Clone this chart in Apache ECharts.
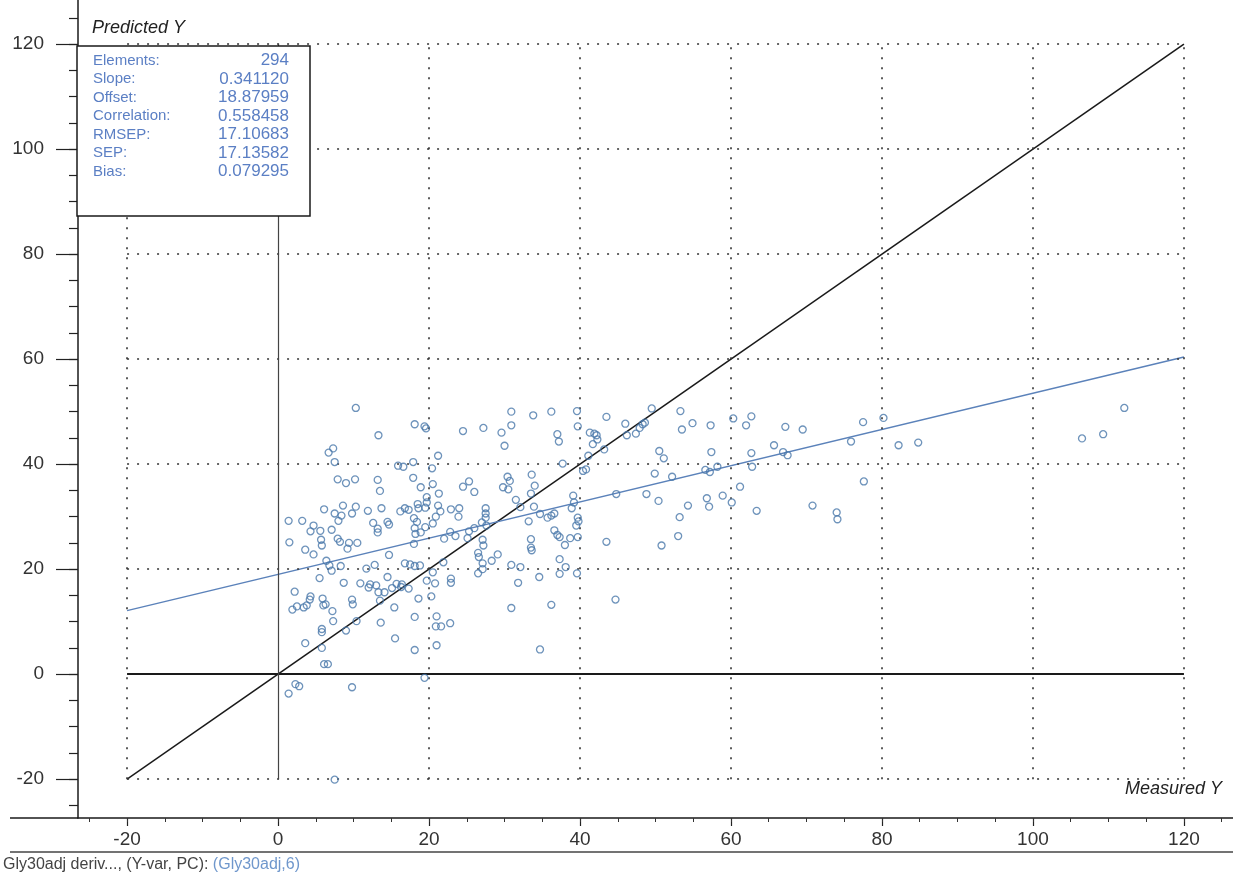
<!DOCTYPE html>
<html>
<head>
<meta charset="utf-8">
<script src="https://cdn.jsdelivr.net/npm/echarts@6/dist/echarts.min.js"></script>
<style>
  html, body { margin: 0; padding: 0; background: #fff; }
  #chart { width: 1233px; height: 877px; }
</style>
</head>
<body>
<div id="chart"></div>
<script>
// axis ticks / grid
const xTicks = [-20, 0, 20, 40, 60, 80, 100, 120];
const yTicks = [-20, 0, 20, 40, 60, 80, 100, 120];
const gridX = [-20, 20, 40, 60, 80, 100, 120];
const gridY = [-20, 20, 40, 60, 80, 100, 120];

// stats box
const statLabels = ['Elements:', 'Slope:', 'Offset:', 'Correlation:', 'RMSEP:', 'SEP:', 'Bias:'];
const statValues = ['294', '0.341120', '18.87959', '0.558458', '17.10683', '17.13582', '0.079295'];

// reference lines
const targetLine = [[-20, -20], [120, 120]];
const fitLine = [[-20, 12.1], [120, 60.4]];

// samples: [measured Y, predicted Y]
const points = [
  [10.3,50.7],[18.1,47.6],[19.4,47.2],[19.6,46.8],[24.5,46.3],[13.3,45.5],[6.7,42.2],[7.3,43.0],[21.2,41.6],[7.5,40.4],
  [15.9,39.7],[16.6,39.5],[17.9,40.4],[20.4,39.2],[7.9,37.1],[9.0,36.4],[10.2,37.1],[13.2,37.0],[13.5,34.9],[17.9,37.4],
  [18.9,35.6],[20.5,36.2],[24.5,35.7],[25.3,36.7],[21.3,34.4],[19.7,33.7],[19.7,32.7],[6.1,31.4],[8.6,32.1],[10.3,31.9],
  [7.5,30.6],[8.4,30.2],[9.8,30.6],[8.0,29.2],[11.9,31.1],[13.7,31.6],[16.2,31.0],[16.8,31.6],[17.3,31.3],[18.5,32.4],
  [18.6,31.6],[19.5,31.7],[21.2,32.1],[21.5,31.0],[22.9,31.4],[24.0,31.6],[23.9,30.0],[20.9,30.0],[1.4,29.2],[3.2,29.2],
  [4.7,28.3],[4.3,27.2],[5.6,27.3],[7.1,27.5],[7.9,25.8],[8.2,25.2],[5.7,25.6],[5.8,24.5],[9.4,25.0],[10.5,25.0],
  [9.2,23.9],[12.6,28.8],[13.2,27.7],[13.2,27.0],[14.5,29.0],[14.7,28.5],[18.0,29.7],[18.4,29.0],[18.1,27.8],[19.5,28.0],
  [18.2,26.7],[18.9,27.0],[20.5,28.7],[22.0,25.8],[22.8,27.1],[23.5,26.3],[25.1,25.9],[1.5,25.1],[3.6,23.7],[4.7,22.8],
  [14.7,22.7],[18.0,24.8],[6.4,21.6],[6.8,20.7],[7.1,19.7],[8.3,20.6],[11.7,20.1],[12.8,20.8],[16.8,21.1],[17.5,20.9],
  [18.1,20.6],[18.8,20.7],[20.5,19.4],[21.9,21.3],[5.5,18.3],[8.7,17.4],[10.9,17.3],[12.2,17.1],[13.0,16.9],[14.5,18.5],
  [15.7,17.2],[16.4,17.1],[19.7,17.8],[20.8,17.3],[22.9,18.2],[22.9,17.4],[12.0,16.5],[13.3,15.6],[14.1,15.6],[15.1,16.4],
  [16.3,16.6],
  [30.9,50.0],[33.8,49.3],[36.2,50.0],[39.6,50.1],[43.5,49.0],[30.9,47.4],[27.2,46.9],[29.6,46.0],[39.7,47.2],
  [41.3,46.0],[41.9,45.8],[42.2,45.5],[42.3,44.7],[46.0,47.7],[46.2,45.5],[47.4,45.8],[47.9,46.9],[48.3,47.6],[48.6,47.9],
  [49.5,50.6],[37.0,45.7],[37.2,44.3],[30.0,43.5],[41.7,43.8],[43.2,42.8],[41.1,41.6],[37.7,40.1],[40.8,39.0],[40.4,38.7],
  [49.9,38.2],[50.5,42.5],[26.0,34.7],[30.4,37.6],[30.7,36.8],[29.8,35.6],[30.5,35.2],[33.6,38.0],[34.0,35.9],[33.5,34.4],
  [31.5,33.2],[32.1,31.8],[33.9,31.9],[34.7,30.5],[35.7,29.8],[36.2,30.2],[36.6,30.6],[39.1,34.0],[39.2,32.7],[38.9,31.6],
  [39.7,29.8],[39.8,29.1],[39.5,28.3],[33.2,29.1],[44.8,34.3],[48.8,34.3],[50.4,33.0],[27.5,31.6],[27.5,30.6],[27.5,29.8],
  [27.0,28.9],[27.6,28.3],[25.3,27.2],[26.0,27.8],[27.1,25.6],[27.2,24.5],[33.5,25.7],[33.5,24.1],[33.6,23.6],[36.6,27.4],
  [37.0,26.5],[37.3,26.1],[38.7,25.9],[38.0,24.6],[39.7,26.1],[43.5,25.2],[26.5,23.1],[26.6,22.3],[28.3,21.6],[29.1,22.8],
  [27.1,21.1],[27.1,20.0],[26.5,19.2],[30.9,20.8],[32.1,20.4],[31.8,17.4],[34.6,18.5],[37.3,19.1],[37.3,21.9],[38.1,20.4],
  [39.6,19.2],
  [30.9,12.6],[36.2,13.2],[44.7,14.2],[34.7,4.7],
  [2.2,15.7],[1.9,12.3],[2.5,12.9],[3.4,12.7],[3.8,13.1],[4.3,14.8],[4.2,14.2],[5.9,14.4],[6.0,13.1],[6.3,13.3],
  [7.2,12.0],[9.8,14.2],[9.9,13.3],[13.5,14.0],[15.4,12.7],[17.3,16.3],[18.6,14.4],[20.3,14.8],[7.3,10.1],[10.4,10.1],
  [13.6,9.8],[18.1,10.9],[21.0,11.0],[20.9,9.1],[21.6,9.1],[22.8,9.7],[5.8,8.0],[5.8,8.6],[3.6,5.9],[5.8,5.0],
  [9.0,8.3],[15.5,6.8],[18.1,4.6],[21.0,5.5],[6.1,1.9],[6.6,1.9],[19.4,-0.7],[1.4,-3.7],[2.3,-1.9],[2.8,-2.3],
  [9.8,-2.5],[7.5,-20.1],
  [54.3,32.1],[56.8,33.5],[57.1,31.9],[58.9,34.0],[60.1,32.7],[53.2,29.9],[53.0,26.3],[50.8,24.5],[63.4,31.1],[70.8,32.1],
  [74.0,30.8],[74.1,29.5],
  [53.3,50.1],[53.5,46.6],[54.9,47.8],[57.3,47.4],[60.3,48.7],[62.0,47.4],[62.7,49.1],[67.2,47.1],[69.5,46.6],[77.5,48.0],
  [80.2,48.8],[75.9,44.3],[82.2,43.6],[84.8,44.1],[51.1,41.1],[57.4,42.3],[62.7,42.1],[62.8,39.5],[65.7,43.6],[66.9,42.3],
  [67.5,41.7],[52.2,37.6],[56.6,38.9],[57.2,38.5],[58.2,39.5],[77.6,36.7],[61.2,35.7],[106.5,44.9],[109.3,45.7],[112.1,50.7]
];

const FONT = "'Liberation Sans', Arial, sans-serif";
const BLUE_TEXT = '#5b7fc4';

// minor ticks every 5
let xMinor = [];
for (let v = -25; v <= 125; v += 5) xMinor.push(v);
let yMinor = [];
for (let v = -25; v <= 125; v += 5) yMinor.push(v);

const X_MIN = -26.5, X_MAX = 126.5, Y_MIN = -27.4, Y_MAX = 128.4;

// dotted grid + solid zero lines as markLines
let gridMarks = [];
gridX.forEach(v => gridMarks.push([{coord: [v, -20]}, {coord: [v, 120]}]));
gridY.forEach(v => gridMarks.push([{coord: [-20, v]}, {coord: [120, v]}]));
gridMarks.push([
  {coord: [-20, 0], lineStyle: {type: 'solid', width: 2, color: '#1a1a1a'}},
  {coord: [120, 0]}
]);
gridMarks.push([
  {coord: [0, -20], lineStyle: {type: 'solid', width: 1.2, color: '#444'}},
  {coord: [0, 120]}
]);

// stats box texts
let boxTexts = [];
statLabels.forEach((lab, i) => {
  boxTexts.push({
    type: 'text', z: 101, left: 93, top: 53 + i * 18.5,
    style: {text: lab, fill: BLUE_TEXT, font: '15px ' + FONT}
  });
  boxTexts.push({
    type: 'text', z: 101, right: 1233 - 289, top: 52 + i * 18.5,
    style: {text: statValues[i], fill: BLUE_TEXT, font: '17px ' + FONT, textAlign: 'right'}
  });
});

const myChart = echarts.init(document.getElementById('chart'));
myChart.setOption({
  animation: false,
  backgroundColor: '#fff',
  grid: {left: 78, right: 0, top: 0, bottom: 59, containLabel: false},
  xAxis: [{
    type: 'value', min: X_MIN, max: X_MAX, position: 'bottom',
    axisLine: {onZero: false, lineStyle: {color: '#1a1a1a', width: 1.5}},
    axisTick: {customValues: xTicks, length: 8, lineStyle: {color: '#222', width: 1.2}},
    axisLabel: {customValues: xTicks, margin: 12, fontSize: 19, color: '#333', fontFamily: FONT},
    splitLine: {show: false}
  }, {
    type: 'value', min: X_MIN, max: X_MAX, position: 'bottom',
    axisLine: {show: false, onZero: false},
    axisTick: {customValues: xMinor, length: 4, lineStyle: {color: '#333', width: 1}},
    axisLabel: {show: false},
    splitLine: {show: false}
  }],
  yAxis: [{
    type: 'value', min: Y_MIN, max: Y_MAX, position: 'left',
    axisLine: {onZero: false, lineStyle: {color: '#1a1a1a', width: 1.5}},
    axisTick: {customValues: yTicks, length: 22, lineStyle: {color: '#222', width: 1.2}},
    axisLabel: {customValues: yTicks, margin: 34, fontSize: 19, color: '#333', fontFamily: FONT},
    splitLine: {show: false}
  }, {
    type: 'value', min: Y_MIN, max: Y_MAX, position: 'left',
    axisLine: {show: false, onZero: false},
    axisTick: {customValues: yMinor, length: 9, lineStyle: {color: '#222', width: 1.2}},
    axisLabel: {show: false},
    splitLine: {show: false}
  }],
  series: [
    {
      type: 'line', data: [], silent: true, z: 1,
      markLine: {
        silent: true, symbol: ['none', 'none'], label: {show: false},
        lineStyle: {type: [2, 8], color: '#333', width: 1.6},
        emphasis: {disabled: true},
        data: gridMarks
      }
    },
    {
      name: 'Target', type: 'line', data: targetLine, symbol: 'none', silent: true, z: 3,
      lineStyle: {color: '#1a1a1a', width: 1.5}
    },
    {
      name: 'Fit', type: 'line', data: fitLine, symbol: 'none', silent: true, z: 3,
      lineStyle: {color: '#5b82ba', width: 1.5}
    },
    {
      name: 'Samples', type: 'scatter', data: points, z: 5,
      symbol: 'circle', symbolSize: 7,
      itemStyle: {color: 'rgba(255,255,255,0)', borderColor: '#4a78aa', borderWidth: 1.3}
    }
  ],
  graphic: [
    {type: 'rect', z: 100, shape: {x: 77, y: 46, width: 233, height: 170},
     style: {fill: '#fff', stroke: '#1a1a1a', lineWidth: 1.5}},
    ...boxTexts,
    {type: 'text', z: 101, left: 92, top: 19,
     style: {text: 'Predicted Y', fill: '#222', font: 'italic 18px ' + FONT}},
    {type: 'text', z: 101, right: 11, top: 780,
     style: {text: 'Measured Y', fill: '#222', font: 'italic 18px ' + FONT}},
    {type: 'line', z: 2, shape: {x1: 10, y1: 818, x2: 78, y2: 818},
     style: {stroke: '#1a1a1a', lineWidth: 1.5}},
    {type: 'line', z: 2, shape: {x1: 10, y1: 852, x2: 1233, y2: 852},
     style: {stroke: '#444', lineWidth: 1.5}},
    {type: 'text', z: 101, left: 3, top: 857,
     style: {
       text: '{a|Gly30adj deriv..., (Y-var, PC): }{b|(Gly30adj,6)}',
       rich: {
         a: {fill: '#444', font: '16px ' + FONT},
         b: {fill: '#6f97cc', font: '16px ' + FONT}
       }
     }}
  ]
});
</script>
</body>
</html>
